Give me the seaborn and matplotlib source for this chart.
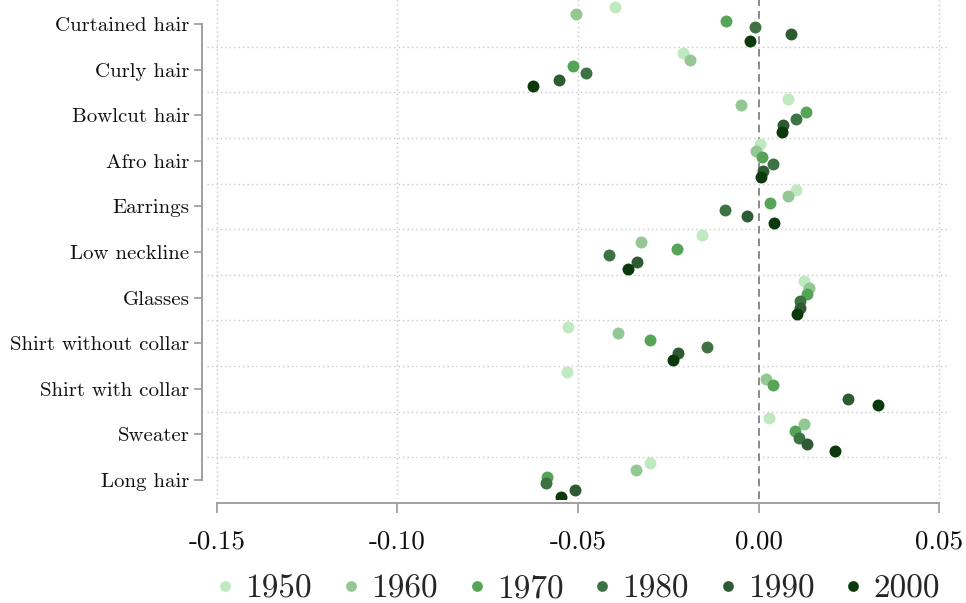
import numpy as np
import pandas as pd
import matplotlib
matplotlib.use("Agg")
import matplotlib.pyplot as plt
import seaborn as sns

# Attribute coefficients by decade of birth
categories = ["Curtained hair", "Curly hair", "Bowlcut hair", "Afro hair", "Earrings",
              "Low neckline", "Glasses", "Shirt without collar", "Shirt with collar",
              "Sweater", "Long hair"]
years = ["1950", "1960", "1970", "1980", "1990", "2000"]

coef_1950 = [-0.0397, -0.0210, 0.0082, 0.0004, 0.0105, -0.0156, 0.0125, -0.0529, -0.0531, 0.0029, -0.0301]
coef_1960 = [-0.0505, -0.0189, -0.0049, -0.0006, 0.0082, -0.0325, 0.0140, -0.0390, 0.0021, 0.0125, -0.0339]
coef_1970 = [-0.0091, -0.0515, 0.0131, 0.0011, 0.0033, -0.0227, 0.0133, -0.0301, 0.0039, 0.0102, -0.0586]
coef_1980 = [-0.0011, -0.0477, 0.0105, 0.0041, -0.0094, -0.0413, 0.0115, -0.0142, np.nan, 0.0112, -0.0589]
coef_1990 = [0.0091, -0.0554, 0.0067, 0.0013, -0.0033, -0.0337, 0.0115, -0.0224, 0.0249, 0.0135, -0.0508]
coef_2000 = [-0.0023, -0.0626, 0.0064, 0.0007, 0.0043, -0.0362, 0.0107, -0.0238, 0.0330, 0.0212, -0.0548]

xtick_values = [-0.15, -0.10, -0.05, 0.00, 0.05]
xtick_labels = ["-0.15", "-0.10", "-0.05", "0.00", "0.05"]

colors = ["#bfe9bf", "#93c794", "#55a457", "#3d7243", "#2e5b34", "#0b390c"]

series = [coef_1950, coef_1960, coef_1970, coef_1980, coef_1990, coef_2000]
df = pd.concat(
    [pd.DataFrame({"attribute": categories, "coef": vals, "decade": yr})
     for yr, vals in zip(years, series)],
    ignore_index=True,
).dropna()

sns.set_theme(style="white")
plt.rcParams["font.family"] = ["cmr10", "DejaVu Serif"]
plt.rcParams["axes.unicode_minus"] = False
plt.rcParams["mathtext.fontset"] = "cm"

W, H = 966, 603
fig = plt.figure(figsize=(W / 100, H / 100), dpi=100)
ax_left, ax_right, ax_top, ax_bottom = 207, 950, 0, 499
ax = fig.add_axes([ax_left / W, 1 - ax_bottom / H, (ax_right - ax_left) / W, (ax_bottom - ax_top) / H])

sns.pointplot(
    data=df, x="coef", y="attribute", hue="decade",
    order=categories, hue_order=years, palette=dict(zip(years, colors)),
    dodge=0.725, linestyle="none", markers="o", markersize=8.6,
    markeredgewidth=0, errorbar=None, ax=ax, zorder=3,
)

# value axis
px_per_unit = 3610.0
ax.set_xlim(-0.15 - 10 / px_per_unit, 0.05 + 11 / px_per_unit)
ax.set_xticks(xtick_values)
ax.set_xticklabels(xtick_labels)

# category axis (inverted)
row_px = 45.6
ax.set_ylim(10 + (ax_bottom - 480) / row_px, 0 - (24 - ax_top) / row_px)
ax.set_yticks(range(len(categories)))
ax.set_yticklabels(categories)
ax.set_yticks(np.arange(0.5, len(categories) - 1, 1), minor=True)
ax.set_ylabel("")
ax.set_xlabel("")

# dotted grid
ax.grid(False)
for xv in xtick_values:
    if xv != 0:
        ax.axvline(xv, color="#c8c8c8", lw=1.0, ls=(0, (1, 2.2)), zorder=0)
ax.grid(which="minor", axis="y", color="#c8c8c8", lw=1.0, ls=(0, (1, 2.2)))
ax.axvline(0, color="#8a8a8a", lw=1.4, ls=(0, (4, 2.5)), zorder=1)

ax.tick_params(axis="y", which="major", length=6, width=1.3, color="#a0a0a0",
               labelsize=15, labelcolor="#111111", pad=3, left=True)
ax.tick_params(axis="x", which="major", length=7, width=1.3, color="#a0a0a0",
               labelsize=19.5, labelcolor="#111111", pad=12, bottom=True)
ax.tick_params(axis="y", which="minor", length=0)

sns.despine(ax=ax, offset={"left": 3.6, "bottom": 2.9}, trim=True)
for side in ("left", "bottom"):
    ax.spines[side].set_color("#a0a0a0")
    ax.spines[side].set_linewidth(1.4)

sns.move_legend(
    ax, "lower center", bbox_to_anchor=(0.5, -0.236), ncol=6, frameon=False,
    title=None, fontsize=24, markerscale=0.9, handlelength=0.5,
    handletextpad=0.35, columnspacing=0.92, borderaxespad=0,
)

fig.savefig("out.png", dpi=100)
